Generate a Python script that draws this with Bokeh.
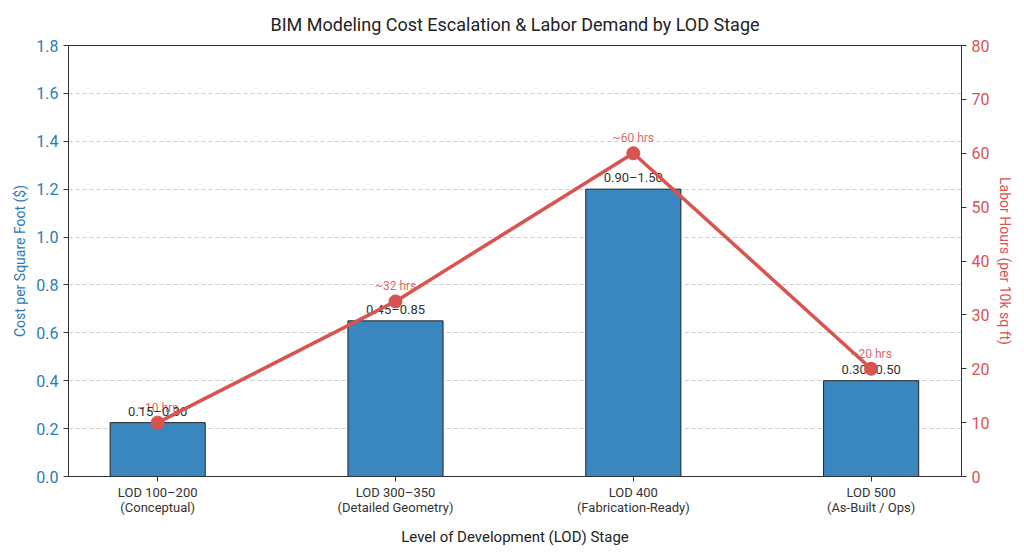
from bokeh.plotting import figure
from bokeh.models import Range1d, LinearAxis, FixedTicker, ColumnDataSource, NumeralTickFormatter
from bokeh.embed import file_html
from bokeh.resources import INLINE
from bokeh.core.properties import value

stages = ["LOD 100–200\n(Conceptual)", "LOD 300–350\n(Detailed Geometry)",
          "LOD 400\n(Fabrication-Ready)", "LOD 500\n(As-Built / Ops)"]
cost_mid = [0.225, 0.65, 1.2, 0.4]
cost_range = ["0.15–0.30", "0.45–0.85", "0.90–1.50", "0.30–0.50"]
labor_hours = [10, 32.5, 60, 20]
labor_labels = ["~10 hrs", "~32 hrs", "~60 hrs", "~20 hrs"]
cost_ticks = [0, 0.2, 0.4, 0.6, 0.8, 1.0, 1.2, 1.4, 1.6, 1.8]
hour_ticks = [0, 10, 20, 30, 40, 50, 60, 70, 80]

FONT = "Roboto"
BLUE = "#3a87c0"
AXBLUE = "#2b7bba"
RED = "#d9534f"

xs = list(range(len(stages)))

p = figure(width=1016, height=549, output_backend="svg", toolbar_location=None,
           x_range=Range1d(-0.375, 3.38), y_range=Range1d(0, 1.8),
           min_border_left=68, min_border_right=54, min_border_top=45, min_border_bottom=72)
p.extra_y_ranges = {"hrs": Range1d(0, 80)}

p.title.text = "BIM Modeling Cost Escalation & Labor Demand by LOD Stage"
p.title.align = "center"
p.title.text_font = FONT
p.title.text_font_size = "18px"
p.title.text_font_style = "normal"
p.title.text_color = "#222222"
p.title.standoff = 22

p.outline_line_color = "#333333"
p.outline_line_width = 1
p.background_fill_color = "white"
p.border_fill_color = "white"

p.xgrid.visible = False
p.ygrid.grid_line_color = "#cccccc"
p.ygrid.grid_line_dash = "4 3"
p.ygrid.grid_line_width = 1
p.yaxis.ticker = FixedTicker(ticks=cost_ticks)

# left axis
ya = p.yaxis[0]
ya.formatter = NumeralTickFormatter(format="0.0")
ya.axis_label = "Cost per Square Foot ($)"
ya.axis_label_text_color = AXBLUE
ya.axis_label_text_font = FONT
ya.axis_label_text_font_style = "normal"
ya.axis_label_text_font_size = "14px"
ya.major_label_text_color = AXBLUE
ya.major_label_text_font = FONT
ya.major_label_text_font_size = "16px"
ya.axis_line_color = "#333333"
ya.major_tick_line_color = "#333333"
ya.major_tick_out = 5
ya.major_tick_in = 0
ya.minor_tick_line_color = None

# x axis
xa = p.xaxis[0]
xa.ticker = FixedTicker(ticks=xs)
xa.major_label_overrides = {i: s for i, s in enumerate(stages)}
xa.major_label_text_font = FONT
xa.major_label_text_font_size = "13px"
xa.major_label_text_line_height = 1.05
xa.major_label_standoff = 3
xa.major_label_text_color = "#333333"
xa.axis_label = "Level of Development (LOD) Stage"
xa.axis_label_text_font = FONT
xa.axis_label_text_font_style = "normal"
xa.axis_label_text_font_size = "15px"
xa.axis_label_text_color = "#222222"
xa.axis_label_standoff = 10
xa.axis_line_color = "#333333"
xa.major_tick_line_color = "#333333"
xa.major_tick_out = 5
xa.major_tick_in = 0
xa.minor_tick_line_color = None

# right axis
ra = LinearAxis(y_range_name="hrs", ticker=FixedTicker(ticks=hour_ticks))
ra.axis_label = "Labor Hours (per 10k sq ft)"
ra.axis_label_text_color = RED
ra.axis_label_text_font = FONT
ra.axis_label_text_font_style = "normal"
ra.axis_label_text_font_size = "14px"
ra.major_label_text_color = RED
ra.major_label_text_font = FONT
ra.major_label_text_font_size = "16px"
ra.axis_line_color = "#333333"
ra.major_tick_line_color = "#333333"
ra.major_tick_out = 5
ra.major_tick_in = 0
ra.minor_tick_line_color = None
p.add_layout(ra, "right")

src = ColumnDataSource(dict(x=xs, cost=cost_mid, rng=cost_range, hrs=labor_hours, hl=labor_labels))

p.vbar(x="x", top="cost", width=0.4, source=src, fill_color=BLUE, line_color="#222222", line_width=1)

p.text(x="x", y="hrs", text="hl", source=src, y_range_name="hrs", text_align="center",
       text_baseline="bottom", y_offset=-8, text_font=value(FONT), text_font_size="12px",
       text_color=RED, text_alpha=0.9)
p.text(x="x", y="cost", text="rng", source=src, text_align="center", text_baseline="bottom",
       y_offset=-4, text_font=value(FONT), text_font_size="13px", text_color="#333333")

p.line(x="x", y="hrs", source=src, y_range_name="hrs", line_color=RED, line_width=3.5)
p.scatter(x="x", y="hrs", source=src, y_range_name="hrs", size=13, fill_color=RED, line_color=RED)

open("out.html", "w").write(file_html(p, INLINE))
